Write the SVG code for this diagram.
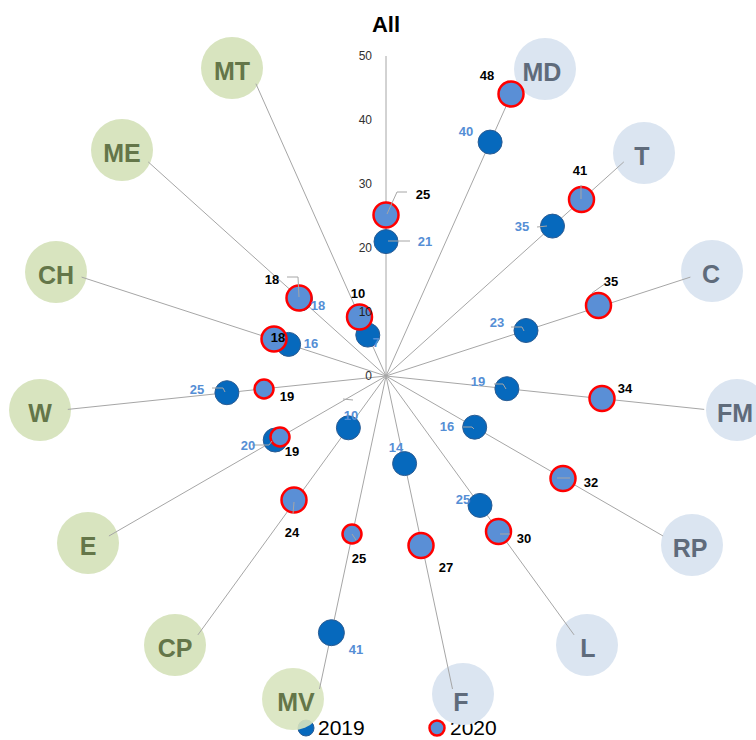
<svg xmlns="http://www.w3.org/2000/svg" width="756" height="740" viewBox="0 0 756 740">
<style>
.bg{fill:#ffffff}
.g{fill:#d8e4bf}
.b{fill:#dbe5f1}
.gt{font-family:"Liberation Sans",Arial,sans-serif;font-weight:bold;font-size:25px;fill:#647649;text-anchor:middle}
.bt{font-family:"Liberation Sans",Arial,sans-serif;font-weight:bold;font-size:25px;fill:#5f6b7b;text-anchor:middle}
.sp{stroke:#a6a6a6;stroke-width:1;fill:none}
.ld{stroke:#a6a6a6;stroke-width:1;fill:none}
.d19{fill:#0669bd;stroke:#2b5c93;stroke-width:1}
.d20{fill:#5a8fd6;stroke:#ff0000;stroke-width:2.5}
.l19{font-family:"Liberation Sans",Arial,sans-serif;font-weight:bold;font-size:13px;fill:#558ed5;text-anchor:middle}
.l20{font-family:"Liberation Sans",Arial,sans-serif;font-weight:bold;font-size:13px;fill:#000000;text-anchor:middle}
.ax{font-family:"Liberation Sans",Arial,sans-serif;font-size:12px;fill:#303030;text-anchor:end}
.ttl{font-family:"Liberation Sans",Arial,sans-serif;font-weight:bold;font-size:22px;fill:#000000;text-anchor:middle}
.lg{font-family:"Liberation Sans",Arial,sans-serif;font-size:21px;fill:#000000}
</style>
<rect class="bg" x="0" y="0" width="756" height="740"/>
<text class="ttl" x="386" y="32">All</text>

<g id="legend">
<circle class="d19" cx="306" cy="728" r="8"/>
<text class="lg" x="318" y="735">2019</text>
<circle class="d20" cx="437" cy="728" r="7.5"/>
<text class="lg" x="450" y="735">2020</text>
</g>

<g id="node-MT"><circle class="g" cx="232" cy="68" r="31"/><text class="gt" x="232" y="80">MT</text></g>
<g id="node-ME"><circle class="g" cx="122" cy="150" r="31"/><text class="gt" x="122" y="162">ME</text></g>
<g id="node-CH"><circle class="g" cx="56" cy="272" r="31"/><text class="gt" x="56" y="284">CH</text></g>
<g id="node-W"><circle class="g" cx="40" cy="410" r="31"/><text class="gt" x="40" y="422">W</text></g>
<g id="node-E"><circle class="g" cx="88" cy="543" r="31"/><text class="gt" x="88" y="555">E</text></g>
<g id="node-CP"><circle class="g" cx="175" cy="645" r="31"/><text class="gt" x="175" y="657">CP</text></g>
<g id="node-MV"><circle class="g" cx="293" cy="699" r="31" fill-opacity="0.9"/><text class="gt" x="296" y="711">MV</text></g>
<g id="node-F"><circle class="b" cx="463" cy="694" r="31"/><text class="bt" x="461" y="711">F</text></g>
<g id="node-L"><circle class="b" cx="587" cy="645" r="31"/><text class="bt" x="588" y="657">L</text></g>
<g id="node-RP"><circle class="b" cx="692" cy="545" r="31"/><text class="bt" x="690" y="557">RP</text></g>
<g id="node-FM"><circle class="b" cx="737" cy="410" r="31"/><text class="bt" x="735" y="422">FM</text></g>
<g id="node-C"><circle class="b" cx="712" cy="271" r="31"/><text class="bt" x="711" y="283">C</text></g>
<g id="node-T"><circle class="b" cx="644" cy="153" r="31"/><text class="bt" x="642" y="165">T</text></g>
<g id="node-MD"><circle class="b" cx="545" cy="69" r="31"/><text class="bt" x="542" y="81">MD</text></g>

<g id="connectors">
<line class="sp" x1="386" y1="376" x2="386" y2="56"/>
<line class="sp" x1="386" y1="376" x2="255.9" y2="83.7"/>
<line class="sp" x1="386" y1="376" x2="148.2" y2="161.9"/>
<line class="sp" x1="386" y1="376" x2="81.6" y2="277.1"/>
<line class="sp" x1="386" y1="376" x2="67.8" y2="409.4"/>
<line class="sp" x1="386" y1="376" x2="108.9" y2="536"/>
<line class="sp" x1="386" y1="376" x2="197.9" y2="634.9"/>
<line class="sp" x1="386" y1="376" x2="319.5" y2="689"/>
<line class="sp" x1="386" y1="376" x2="452.5" y2="689"/>
<line class="sp" x1="386" y1="376" x2="574.1" y2="634.9"/>
<line class="sp" x1="386" y1="376" x2="663.1" y2="536"/>
<line class="sp" x1="386" y1="376" x2="704.2" y2="409.4"/>
<line class="sp" x1="386" y1="376" x2="690.4" y2="277.1"/>
<line class="sp" x1="386" y1="376" x2="623.8" y2="161.9"/>
<line class="sp" x1="386" y1="376" x2="516.1" y2="83.7"/>
</g>

<g id="axis-labels">
<text class="ax" x="372" y="60">50</text>
<text class="ax" x="372" y="124">40</text>
<text class="ax" x="372" y="188">30</text>
<text class="ax" x="372" y="252">20</text>
<text class="ax" x="372" y="380">0</text>
</g>

<g id="series-2019">
<circle class="d19" cx="386" cy="241.6" r="12"/>
<circle class="d19" cx="367.8" cy="335.1" r="12"/>
<circle class="d19" cx="300.4" cy="298.9" r="12"/>
<circle class="d19" cx="288.6" cy="344.4" r="12"/>
<circle class="d19" cx="226.9" cy="392.7" r="12"/>
<circle class="d19" cx="275.2" cy="440" r="12"/>
<circle class="d19" cx="348.4" cy="427.8" r="12"/>
<circle class="d19" cx="331.4" cy="632.7" r="13"/>
<circle class="d19" cx="404.6" cy="463.6" r="12"/>
<circle class="d19" cx="480" cy="505.4" r="12"/>
<circle class="d19" cx="474.7" cy="427.2" r="12"/>
<circle class="d19" cx="506.9" cy="388.7" r="12"/>
<circle class="d19" cx="526" cy="330.5" r="12"/>
<circle class="d19" cx="552.5" cy="226.1" r="12"/>
<circle class="d19" cx="490.1" cy="142.1" r="12"/>
</g>

<g id="series-2020">
<circle class="d20" cx="386" cy="215" r="12.5"/>
<circle class="d20" cx="359.5" cy="317" r="12.5"/>
<circle class="d20" cx="299" cy="298" r="12.5"/>
<circle class="d20" cx="274" cy="339" r="12.5"/>
<circle class="d20" cx="264" cy="389" r="9.5"/>
<circle class="d20" cx="280" cy="437" r="9.5"/>
<circle class="d20" cx="294" cy="500" r="12.5"/>
<circle class="d20" cx="352" cy="534" r="9.5"/>
<circle class="d20" cx="421" cy="545.5" r="12.5"/>
<circle class="d20" cx="498.5" cy="531.5" r="12.5"/>
<circle class="d20" cx="563" cy="478.5" r="12.5"/>
<circle class="d20" cx="602" cy="398.5" r="12.5"/>
<circle class="d20" cx="598.5" cy="305.5" r="12.5"/>
<circle class="d20" cx="581.5" cy="199.5" r="12.5"/>
<circle class="d20" cx="511" cy="94" r="12.5"/>
</g>

<g id="leaders">
<polyline class="ld" points="407,192 397,192 387,214"/>
<line class="ld" x1="410" y1="241" x2="388" y2="241"/>
<polyline class="ld" points="287,277 298,277 299,297"/>
<polyline class="ld" points="212,388 223,388 225,392"/>
<line class="ld" x1="343" y1="399" x2="353" y2="400"/>
<polyline class="ld" points="252,445 269,445 272,441"/>
<line class="ld" x1="294" y1="502" x2="293" y2="514"/>
<line class="ld" x1="352" y1="534" x2="356" y2="540"/>
<polyline class="ld" points="494,384 503,384 506,389"/>
<polyline class="ld" points="463,427 472,427 474,429"/>
<polyline class="ld" points="557,478 570,478"/>
<polyline class="ld" points="500,534 510,534"/>
<polyline class="ld" points="511,327 522,327 524,331"/>
<polyline class="ld" points="592,293 606,283"/>
<polyline class="ld" points="537,227 547,226"/>
<polyline class="ld" points="581,185 581,199"/>
</g>

<g id="value-labels">
<text class="l20" x="423" y="199">25</text>
<text class="l19" x="425" y="246">21</text>
<text class="ax" x="372" y="316" style="fill:#202020">10</text>
<text class="l20" x="358" y="298">10</text>
<text class="l19" x="376" y="347">7</text>
<text class="l20" x="272" y="284">18</text>
<text class="l19" x="318" y="310">18</text>
<text class="l20" x="278" y="342">18</text>
<text class="l19" x="311" y="348">16</text>
<text class="l19" x="197" y="394">25</text>
<text class="l20" x="287" y="401">19</text>
<text class="l19" x="248" y="450">20</text>
<text class="l20" x="292" y="456">19</text>
<text class="l19" x="351" y="420">10</text>
<text class="l20" x="292" y="537">24</text>
<text class="l20" x="359" y="563">25</text>
<text class="l19" x="356" y="654">41</text>
<text class="l19" x="396" y="452">14</text>
<text class="l20" x="446" y="572">27</text>
<text class="l19" x="463" y="504">25</text>
<text class="l20" x="524" y="543">30</text>
<text class="l19" x="447" y="431">16</text>
<text class="l20" x="591" y="487">32</text>
<text class="l19" x="478" y="386">19</text>
<text class="l20" x="625" y="393">34</text>
<text class="l19" x="497" y="327">23</text>
<text class="l20" x="611" y="286">35</text>
<text class="l19" x="522" y="231">35</text>
<text class="l20" x="580" y="175">41</text>
<text class="l19" x="466" y="136">40</text>
<text class="l20" x="487" y="80">48</text>
</g>
</svg>
